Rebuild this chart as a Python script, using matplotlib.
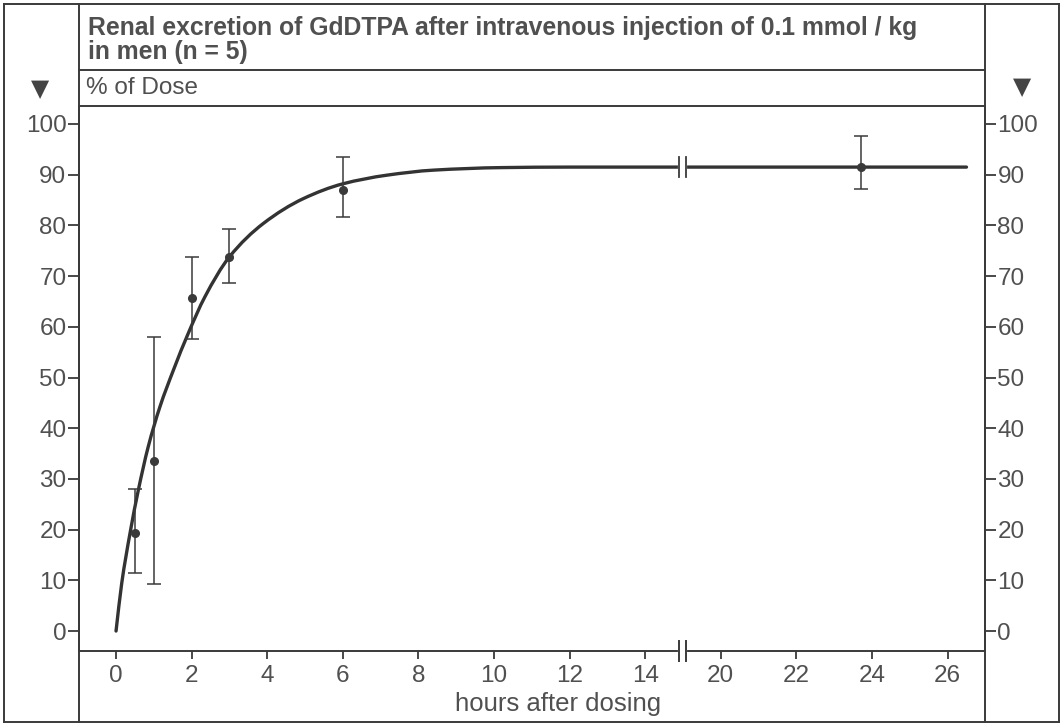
import numpy as np
import matplotlib
matplotlib.use("Agg")
import matplotlib.pyplot as plt
from matplotlib.lines import Line2D
from matplotlib.path import Path
from matplotlib.patches import PathPatch

plt.rcParams['font.family'] = ['Liberation Sans', 'DejaVu Sans']

# ---- data ----
times = [0.5, 1, 2, 3, 6, 23.7]
means = [19.3, 33.5, 65.6, 73.8, 87.0, 91.5]
err_lo = [11.4, 9.2, 57.5, 68.6, 81.6, 87.2]
err_hi = [28.1, 58.0, 73.7, 79.2, 93.4, 97.6]

curve_t = [0, 0.15, 0.37, 0.59, 0.85, 1.16, 1.52, 1.91, 2.35, 3.0, 3.9, 4.96,
           6.0, 7.16, 8.4, 10.2, 12, 15, 19, 26.5]
curve_y = [0, 9.4, 19.3, 27.8, 36.3, 44.2, 51.5, 58.7, 65.9, 73.8, 80.4, 85.3,
           88.2, 89.9, 90.9, 91.4, 91.5, 91.5, 91.5, 91.5]

xtick_hours = [0, 2, 4, 6, 8, 10, 12, 14, 20, 22, 24, 26]
ytick_vals = [0, 10, 20, 30, 40, 50, 60, 70, 80, 90, 100]

title_text = "Renal excretion of GdDTPA after intravenous injection of 0.1 mmol / kg\nin men (n = 5)"
ylab_text = "% of Dose"
xlab_text = "hours after dosing"

BREAK_AT = 15.0
GAP = 4.0


def disp(t):
    t = np.asarray(t, dtype=float)
    return np.where(t <= BREAK_AT, t, t - GAP)


W, H = 1064, 725
fig = plt.figure(figsize=(W / 100, H / 100), dpi=100)
fig.patch.set_facecolor('white')

TXT = '#505050'
LINE = '#3a3a3a'

# axes position in pixels
axL, axR, axT, axB = 79, 985, 106, 651
ax = fig.add_axes([axL / W, 1 - axB / H, (axR - axL) / W, (axB - axT) / H])
ax.set_xlim(-0.98, 22.99)
ax.set_ylim(-3.94, 103.55)
ax.set_facecolor('none')

ax.spines['top'].set_visible(False)
for s in ['left', 'right', 'bottom']:
    ax.spines[s].set_color(LINE)
    ax.spines[s].set_linewidth(1.4)

ax.set_xticks(disp(xtick_hours))
ax.set_xticklabels([str(h) for h in xtick_hours])
ax.set_yticks(ytick_vals)
ax.set_yticklabels([str(v) for v in ytick_vals])
ax.tick_params(axis='x', direction='out', length=6, width=1.3, color=LINE,
               labelsize=17.5, labelcolor=TXT, pad=4)
ax.tick_params(axis='y', direction='out', length=8, width=1.3, color=LINE,
               labelsize=17.5, labelcolor=TXT, pad=1, left=True, right=True,
               labelleft=True, labelright=True)

# ---- smooth curve through the read points (monotone cubic Bezier) ----
cx = disp(curve_t)
cy = np.asarray(curve_y, dtype=float)
keep = np.concatenate([[True], np.diff(cx) > 1e-9])
cx, cy = cx[keep], cy[keep]
h = np.diff(cx)
d = np.diff(cy) / h
n = len(cx)
mslope = np.zeros(n)
mslope[0] = d[0]
mslope[-1] = d[-1]
for k in range(1, n - 1):
    if d[k - 1] * d[k] <= 0:
        mslope[k] = 0.0
    else:
        w1 = 2 * h[k] + h[k - 1]
        w2 = h[k] + 2 * h[k - 1]
        mslope[k] = (w1 + w2) / (w1 / d[k - 1] + w2 / d[k])
verts = [(cx[0], cy[0])]
codes = [Path.MOVETO]
for k in range(n - 1):
    verts += [(cx[k] + h[k] / 3, cy[k] + mslope[k] * h[k] / 3),
              (cx[k + 1] - h[k] / 3, cy[k + 1] - mslope[k + 1] * h[k] / 3),
              (cx[k + 1], cy[k + 1])]
    codes += [Path.CURVE4, Path.CURVE4, Path.CURVE4]
ax.add_patch(PathPatch(Path(verts, codes), facecolor='none', edgecolor='#333333',
                       lw=2.4, capstyle='round', joinstyle='round', zorder=3))

# error bars
m = np.array(means)
yerr = np.vstack([m - np.array(err_lo), np.array(err_hi) - m])
ax.errorbar(disp(times), means, yerr=yerr, fmt='o', color='#3a3a3a', ms=5.5,
            elinewidth=1.1, capsize=5, capthick=1.1, zorder=4)

# break marks on axis and on curve
ax.plot([14.93, 15.04], [91.5, 91.5], color='white', lw=3, zorder=4)
ax.plot([14.93, 15.04], [0.0, 0.0], transform=ax.get_xaxis_transform(),
        color='white', lw=3, zorder=4, clip_on=False)
for xb in [14.9, 15.07]:
    ax.plot([xb, xb], [-0.018, 0.018], transform=ax.get_xaxis_transform(),
            color=LINE, lw=1.4, clip_on=False, zorder=5)
    ax.plot([xb, xb], [89.6, 93.4], color=LINE, lw=1.3, zorder=5)

# ---- frame lines in pixel coordinates ----
def hline(y, x0, x1, lw=1.4):
    fig.add_artist(Line2D([x0 / W, x1 / W], [1 - y / H, 1 - y / H],
                          transform=fig.transFigure, color=LINE, lw=lw))


def vline(x, y0, y1, lw=1.4):
    fig.add_artist(Line2D([x / W, x / W], [1 - y0 / H, 1 - y1 / H],
                          transform=fig.transFigure, color=LINE, lw=lw))


hline(4, 4, 1059)
hline(722, 4, 1059)
vline(4, 4, 722)
vline(1059, 4, 722)
vline(79, 4, 722)
vline(985, 4, 722)
hline(70, 79, 985)
hline(106, 79, 985)

fig.text(88 / W, 1 - 40 / H, title_text, fontsize=17.8, fontweight='bold', color=TXT,
         ha='left', va='center', linespacing=0.98)
fig.text(86 / W, 1 - 88 / H, ylab_text, fontsize=17.5, color=TXT, ha='left', va='center')
fig.text(558 / W, 1 - 704 / H, xlab_text, fontsize=18.5, color=TXT, ha='center', va='center')

# triangles
fig.text(40 / W, 1 - 89 / H, '\u25BC', fontsize=17, color='#444444', ha='center',
         va='center', family=['DejaVu Sans'])
fig.text(1022 / W, 1 - 87 / H, '\u25BC', fontsize=17, color='#444444', ha='center',
         va='center', family=['DejaVu Sans'])

fig.savefig('out.png', dpi=100, facecolor='white')
